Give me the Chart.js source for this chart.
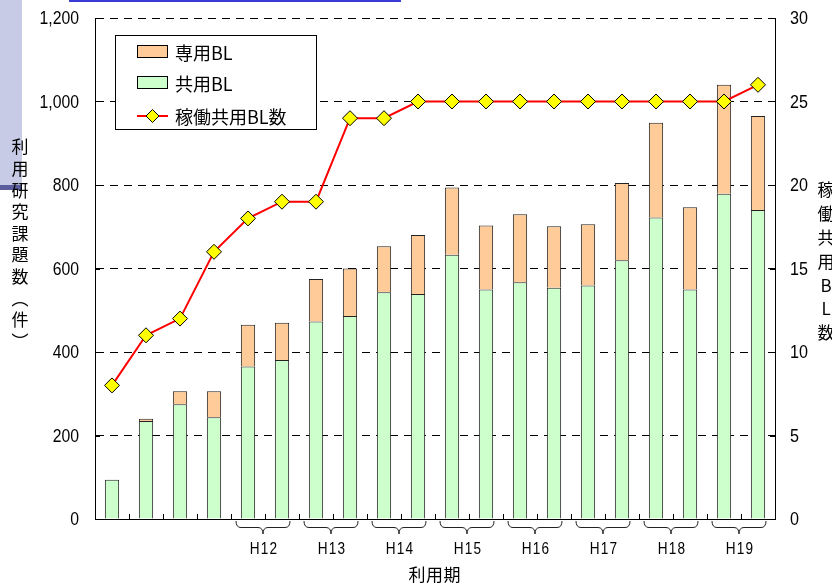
<!DOCTYPE html>
<html>
<head>
<meta charset="utf-8">
<script src="https://cdn.jsdelivr.net/npm/chart.js@4"></script>
<style>
  html, body { margin: 0; padding: 0; background: #fff; }
  #wrap { width: 832px; height: 583px; position: relative; }
</style>
</head>
<body>
<div id="wrap"><canvas id="c" width="832" height="583"></canvas></div>
<script>
// Beamline usage per period
const categories = ['第1期','第2期','第3期','第4期','H12前','H12後','H13前','H13後','H14前','H14後',
                    'H15前','H15後','H16前','H16後','H17前','H17後','H18前','H18後','H19前','H19後'];
const yearLabels = ['','','','','H12','H12','H13','H13','H14','H14',
                    'H15','H15','H16','H16','H17','H17','H18','H18','H19','H19'];
const seriesNames = ['専用BL', '共用BL', '稼働共用BL数'];
const kyoyoBL  = [94, 235, 275, 244, 365, 381, 473, 486, 543, 539, 633, 550, 567, 554, 559, 620, 722, 550, 779, 740];
const senyoBL  = [null, 5, 31, 62, 100, 89, 102, 114, 110, 141, 161, 153, 163, 147, 147, 185, 227, 197, 261, 225];
const kadoBL   = [8, 11, 12, 16, 18, 19, 19, 24, 24, 25, 25, 25, 25, 25, 25, 25, 25, 25, 25, 26];
const leftTicks  = [0, 200, 400, 600, 800, 1000, 1200];
const rightTicks = [0, 5, 10, 15, 20, 25, 30];
const leftTitle  = ['利','用','研','究','課','題','数','︵','件','︶'];
const rightTitle = ['稼','働','共','用','B','L','数'];
const bottomTitle = ['利','用','期'];

const NUM_FONT = '"Liberation Sans", "DejaVu Sans", sans-serif';
const JP_FONT = '"Noto Sans CJK JP", "Noto Sans", sans-serif';
const GREEN = '#ccffcc', ORANGE = '#ffcc99', EDGE = '#222';

// condensed text: draws str with horizontal squeeze so the narrow digits fit
function narrowText(c, str, x, y, align, squeeze, spacing) {
  c.save();
  c.translate(x, y);
  c.scale(squeeze, 1);
  c.textAlign = align;
  c.textBaseline = 'middle';
  c.letterSpacing = (spacing || 0) + 'px';
  c.fillText(str, 0, 0);
  c.restore();
}

const decor = {
  id: 'decor',
  beforeDraw(chart) {
    const c = chart.ctx;
    c.save();
    c.fillStyle = '#fff';
    c.fillRect(0, 0, chart.width, chart.height);
    // page side band and rule
    c.fillStyle = '#c7cbe5';
    c.fillRect(0, 0, 22, 185);
    c.fillStyle = '#5b5c9c';
    c.fillRect(0, 185, 22, 5);
    c.fillStyle = '#3a3ad6';
    c.fillRect(69, 0, 332, 2);
    c.restore();
  },
  afterDraw(chart) {
    const c = chart.ctx;
    const a = chart.chartArea;
    const x = chart.scales.x, y = chart.scales.y, y1 = chart.scales.y1;
    c.save();
    c.strokeStyle = '#000';
    c.lineWidth = 1;
    // inward tick marks
    c.beginPath();
    leftTicks.forEach(v => { const p = Math.round(y.getPixelForValue(v)) + 0.5; c.moveTo(a.left, p); c.lineTo(a.left + 5, p); });
    rightTicks.forEach(v => { const p = Math.round(y1.getPixelForValue(v)) + 0.5; c.moveTo(a.right - 5, p); c.lineTo(a.right, p); });
    const step = (a.right - a.left) / categories.length;
    for (let i = 1; i < categories.length; i++) {
      const p = Math.round(a.left + i * step) + 0.5;
      c.moveTo(p, a.bottom); c.lineTo(p, a.bottom - 5);
    }
    c.stroke();

    // tick labels
    c.fillStyle = '#000';
    c.font = '19px ' + NUM_FONT;
    leftTicks.forEach(v => narrowText(c, v.toLocaleString('en-US'), a.left - 16, y.getPixelForValue(v) + 1, 'right', 0.83));
    rightTicks.forEach(v => narrowText(c, String(v), a.right + 15, y1.getPixelForValue(v) + 1, 'left', 0.85));

    // fiscal-year braces and labels
    const groups = [];
    yearLabels.forEach((lab, i) => {
      if (!lab) return;
      const g = groups[groups.length - 1];
      if (g && g.lab === lab) g.last = i; else groups.push({ lab, first: i, last: i });
    });
    c.strokeStyle = '#222';
    c.lineWidth = 1;
    groups.forEach(g => {
      const cx = (x.getPixelForValue(g.first) + x.getPixelForValue(g.last)) / 2 - 2;
      const hw = 27, yTop = a.bottom + 2, yMid = a.bottom + 8.5, yTip = a.bottom + 15, r = 5;
      c.beginPath();
      c.moveTo(cx - hw, yTop);
      c.quadraticCurveTo(cx - hw, yMid, cx - hw + r, yMid);
      c.lineTo(cx - r, yMid);
      c.quadraticCurveTo(cx, yMid, cx, yTip);
      c.moveTo(cx + hw, yTop);
      c.quadraticCurveTo(cx + hw, yMid, cx + hw - r, yMid);
      c.lineTo(cx + r, yMid);
      c.quadraticCurveTo(cx, yMid, cx, yTip);
      c.stroke();
      c.fillStyle = '#000';
      c.font = '17px ' + NUM_FONT;
      narrowText(c, g.lab, cx + 1, a.bottom + 30, 'center', 0.8, 1.5);
    });

    // axis titles
    c.fillStyle = '#000';
    c.textAlign = 'center';
    c.textBaseline = 'middle';
    c.font = '17px ' + JP_FONT;
    leftTitle.forEach((ch, i) => c.fillText(ch, 20, 147 + i * 21.6));
    c.font = '17px ' + JP_FONT;
    rightTitle.forEach((ch, i) => c.fillText(ch, 826, 190 + i * 23.8));
    c.font = '17px ' + JP_FONT;
    bottomTitle.forEach((ch, i) => c.fillText(ch, 417 + i * 17.5, 575));

    // legend
    const lx = 115.5, ly = 35.5, lw = 201, lh = 94;
    c.fillStyle = '#fff';
    c.fillRect(lx, ly, lw, lh);
    c.strokeStyle = '#000';
    c.strokeRect(lx, ly, lw, lh);
    const ds = chart.data.datasets;
    const rows = [
      { name: seriesNames[0], ds: ds[2], yc: 52 },
      { name: seriesNames[1], ds: ds[1], yc: 83 },
      { name: seriesNames[2], ds: ds[0], yc: 116 }
    ];
    rows.forEach(row => {
      if (row.ds.type === 'line') {
        c.strokeStyle = row.ds.borderColor;
        c.lineWidth = 2;
        c.beginPath(); c.moveTo(137, row.yc); c.lineTo(168, row.yc); c.stroke();
        const d = 6.5, mx = 152.5;
        c.beginPath();
        c.moveTo(mx, row.yc - d); c.lineTo(mx + d, row.yc); c.lineTo(mx, row.yc + d); c.lineTo(mx - d, row.yc); c.closePath();
        c.fillStyle = row.ds.pointBackgroundColor; c.fill();
        c.lineWidth = 1; c.strokeStyle = '#000'; c.stroke();
      } else {
        c.fillStyle = row.ds.backgroundColor;
        c.fillRect(137.5, row.yc - 6.5, 30, 12);
        c.lineWidth = 1; c.strokeStyle = '#000';
        c.strokeRect(137.5, row.yc - 6.5, 30, 12);
      }
      c.fillStyle = '#000';
      c.font = '18px ' + JP_FONT;
      c.textAlign = 'left';
      c.textBaseline = 'middle';
      c.fillText(row.name, 175, row.yc + 1);
    });
    c.restore();
  }
};

new Chart(document.getElementById('c').getContext('2d'), {
  type: 'bar',
  data: {
    labels: categories,
    datasets: [
      {
        type: 'line', label: seriesNames[2], data: kadoBL, yAxisID: 'y1', order: 0,
        borderColor: '#ff0000', borderWidth: 2, tension: 0,
        pointStyle: 'rectRot', pointRadius: 7.5, pointHoverRadius: 7.5,
        pointBackgroundColor: '#ffff00', pointBorderColor: '#000', pointBorderWidth: 1
      },
      {
        label: seriesNames[1], data: kyoyoBL, yAxisID: 'y', stack: 'bl', order: 1,
        backgroundColor: GREEN, borderColor: EDGE, borderWidth: 1,
        barPercentage: 0.42, categoryPercentage: 1
      },
      {
        label: seriesNames[0], data: senyoBL, yAxisID: 'y', stack: 'bl', order: 1,
        backgroundColor: ORANGE, borderColor: EDGE, borderWidth: 1,
        barPercentage: 0.42, categoryPercentage: 1
      }
    ]
  },
  options: {
    responsive: false,
    animation: false,
    devicePixelRatio: 1,
    layout: { padding: { top: 18, left: 0, right: 0, bottom: 0 } },
    plugins: { legend: { display: false }, tooltip: { enabled: false } },
    scales: {
      x: {
        stacked: true,
        grid: { display: false, drawTicks: false },
        border: { display: true, color: '#000', width: 1 },
        ticks: { display: false },
        afterFit(s) { s.height = 64; }
      },
      y: {
        stacked: true, position: 'left', min: 0, max: 1200,
        afterBuildTicks(s) { s.ticks = leftTicks.map(v => ({ value: v })); },
        ticks: { display: false },
        grid: { color: '#000', lineWidth: 1, drawTicks: false },
        border: { display: true, color: '#000', width: 1, dash: [8, 6] },
        afterFit(s) { s.width = 95; }
      },
      y1: {
        position: 'right', min: 0, max: 30,
        afterBuildTicks(s) { s.ticks = rightTicks.map(v => ({ value: v })); },
        ticks: { display: false },
        grid: { display: false, drawTicks: false },
        border: { display: true, color: '#000', width: 1 },
        afterFit(s) { s.width = 57; }
      }
    }
  },
  plugins: [decor]
});
</script>
</body>
</html>
